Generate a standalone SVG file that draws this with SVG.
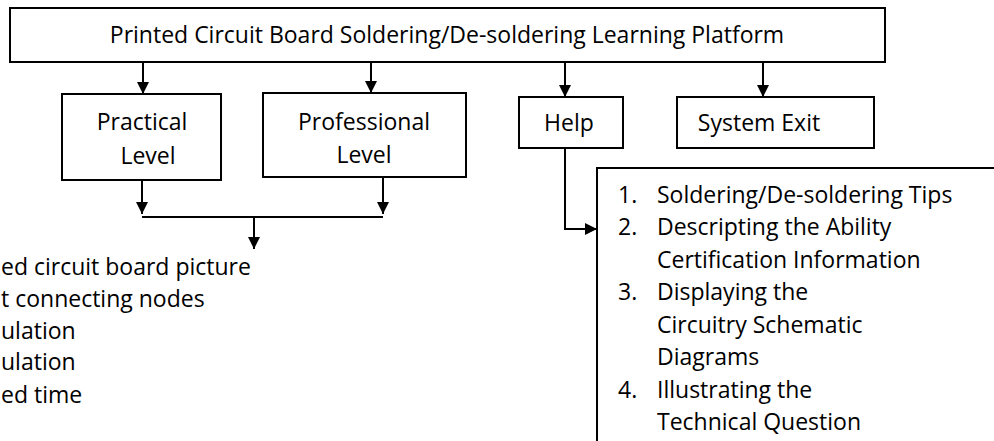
<svg xmlns="http://www.w3.org/2000/svg" width="994" height="441" viewBox="0 0 994 441">
<style>
text{font-family:"Open Sans","Noto Sans","Liberation Sans",sans-serif;font-size:23px;fill:#000}
.box{fill:#fff;stroke:#000;stroke-width:2}
.c{text-anchor:middle}
.ln{fill:none;stroke:#000;stroke-width:2}
</style>
<defs>
<marker id="ah" viewBox="0 0 12 12" refX="12" refY="6" markerWidth="12" markerHeight="12" markerUnits="userSpaceOnUse" orient="auto">
<path d="M0,0 L12,6 L0,12 z" fill="#000"/>
</marker>
</defs>
<rect width="994" height="441" fill="#fff"/>
<g id="title">
<rect class="box" x="10" y="8" width="875" height="54"/>
<text class="c" x="447" y="43">Printed Circuit Board Soldering/De-soldering Learning Platform</text>
</g>
<g id="practical">
<rect class="box" x="62" y="94" width="159" height="86"/>
<text class="c" x="142" y="130">Practical</text>
<text class="c" x="148" y="164">Level</text>
</g>
<g id="professional">
<rect class="box" x="263" y="93" width="203" height="84"/>
<text class="c" x="364" y="130">Professional</text>
<text class="c" x="364" y="163">Level</text>
</g>
<g id="help">
<rect class="box" x="519" y="97" width="104" height="51"/>
<text class="c" x="569" y="131">Help</text>
</g>
<g id="exit">
<rect class="box" x="677" y="97" width="197" height="51"/>
<text class="c" x="759" y="131">System Exit</text>
</g>
<g id="help-list">
<rect class="box" x="597" y="168" width="420" height="300"/>
<text x="618" y="203">1.</text><text x="657" y="203">Soldering/De-soldering Tips</text>
<text x="618" y="235">2.</text><text x="657" y="235">Descripting the Ability</text>
<text x="657" y="268">Certification Information</text>
<text x="618" y="300">3.</text><text x="657" y="300">Displaying the</text>
<text x="657" y="333">Circuitry Schematic</text>
<text x="657" y="365">Diagrams</text>
<text x="618" y="398">4.</text><text x="657" y="398">Illustrating the</text>
<text x="657" y="430">Technical Question</text>
</g>
<g id="level-list">
<text x="1" y="275">ed circuit board picture</text>
<text x="1" y="307">t connecting nodes</text>
<text x="1" y="339">ulation</text>
<text x="1" y="370">ulation</text>
<text x="1" y="403">ed time</text>
</g>
<g id="connectors">
<line class="ln" x1="143" y1="62" x2="143" y2="94" marker-end="url(#ah)"/>
<line class="ln" x1="371" y1="62" x2="371" y2="93" marker-end="url(#ah)"/>
<line class="ln" x1="565" y1="62" x2="565" y2="97" marker-end="url(#ah)"/>
<line class="ln" x1="763" y1="62" x2="763" y2="97" marker-end="url(#ah)"/>
<line class="ln" x1="142" y1="180" x2="142" y2="214" marker-end="url(#ah)"/>
<line class="ln" x1="383" y1="177" x2="383" y2="214" marker-end="url(#ah)"/>
<line class="ln" x1="142" y1="217" x2="383" y2="217"/>
<line class="ln" x1="254" y1="217" x2="254" y2="249" marker-end="url(#ah)"/>
<polyline class="ln" points="565,148 565,229 597,229" marker-end="url(#ah)"/>
</g>
</svg>
